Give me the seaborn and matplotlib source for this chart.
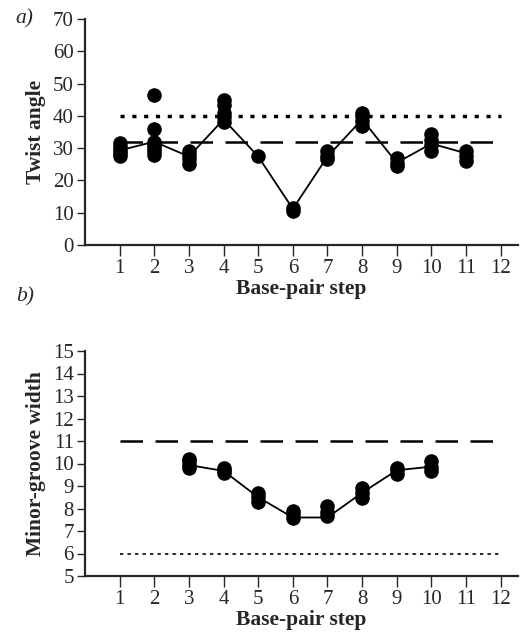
import pandas as pd
import numpy as np
import matplotlib.pyplot as plt
import seaborn as sns

# twist angle samples per base-pair step
twist_steps = [1, 2, 3, 4, 5, 6, 7, 8, 9, 10, 11]
twist_values = [
    [27.5, 28.5, 29.5, 30.5, 31.5],
    [28, 29, 30, 31, 32, 36, 46.5],
    [25, 26.5, 28, 29],
    [38, 39.5, 41, 43.5, 45],
    [27.5],
    [10.5, 11.5],
    [26.5, 27.5, 29],
    [37, 38.5, 40, 41],
    [24.5, 25.5, 27],
    [29, 31, 32.5, 34.5],
    [26, 27.5, 29],
]
twist_line = [29.3, 32, 27.4, 38.9, 27.4, 11.2, 27.4, 38.9, 25.5, 31.4, 28.4]
twist_dashed = 32
twist_dotted = 40

# minor-groove width samples
groove_steps = [3, 4, 5, 6, 7, 8, 9, 10]
groove_values = [
    [9.8, 9.95, 10.1, 10.2],
    [9.6, 9.7, 9.8],
    [8.3, 8.5, 8.7],
    [7.6, 7.75, 7.9],
    [7.65, 7.85, 8.1],
    [8.45, 8.7, 8.9],
    [9.55, 9.7, 9.8],
    [9.65, 9.85, 10.1],
]
groove_line = [9.93, 9.67, 8.5, 7.6, 7.6, 8.7, 9.7, 9.86]
groove_dashed = 11
groove_dotted = 6

xticks = list(range(1, 13))


def to_frame(steps, values):
    rows = [(s, v) for s, vals in zip(steps, values) for v in vals]
    return pd.DataFrame(rows, columns=["step", "value"])


sns.set_style("ticks")
plt.rcParams["font.family"] = ["Liberation Serif", "DejaVu Serif"]

fig = plt.figure(figsize=(5.28, 6.37), dpi=100)
W, H = 528, 637
ax1 = fig.add_axes([85 / W, 1 - 245 / H, 433 / W, 226 / H])
ax2 = fig.add_axes([85 / W, 1 - 576 / H, 433 / W, 225 / H])


def draw(ax, steps, values, line, dashed, dotted, dotted_lw, ylim, yticks, ylabel, tag):
    df = to_frame(steps, values)
    sns.lineplot(x=steps, y=line, ax=ax, color="black", lw=1.3, zorder=2)
    sns.scatterplot(data=df, x="step", y="value", ax=ax, color="black",
                    s=110, edgecolor="black", linewidth=0, zorder=3)
    sns.lineplot(x=[1, 12], y=[dashed, dashed], ax=ax, color="black",
                 lw=1.8, dashes=False, zorder=1)
    ax.lines[-1].set_dashes([9, 5])
    sns.lineplot(x=[1, 12], y=[dotted, dotted], ax=ax, color="black",
                 lw=dotted_lw, zorder=1)
    ax.lines[-1].set_dashes([1.2, 2.2] if dotted_lw > 2 else [2, 2.5])
    ax.set_xlim(0, 12.5)
    ax.set_ylim(*ylim)
    ax.set_xticks(xticks)
    ax.set_yticks(yticks)
    ax.tick_params(axis="x", length=8, width=1, labelsize=15, direction="out", pad=2)
    ax.tick_params(axis="y", length=6, width=1, labelsize=15, direction="out", pad=2)
    for s in ["top", "right"]:
        ax.spines[s].set_visible(False)
    for s in ["left", "bottom"]:
        ax.spines[s].set_linewidth(1.6)
    ax.set_xlabel("Base-pair step", fontsize=15.5, fontweight="bold", labelpad=1)
    ax.set_ylabel(ylabel, fontsize=15.5, fontweight="bold", labelpad=5)
    ax.text(-0.16, 1.0, tag, transform=ax.transAxes, fontsize=15.5,
            fontstyle="italic", ha="left", va="center")


draw(ax1, twist_steps, twist_values, twist_line, twist_dashed, twist_dotted, 2.5,
     (0, 70), range(0, 71, 10), "Twist angle", "a)")
draw(ax2, groove_steps, groove_values, groove_line, groove_dashed, groove_dotted, 1.2,
     (5, 15), range(5, 16), "Minor-groove width", "b)")
ax2.texts[-1].set_position((-0.16, 1.24))

fig.savefig("out.png", dpi=100)
